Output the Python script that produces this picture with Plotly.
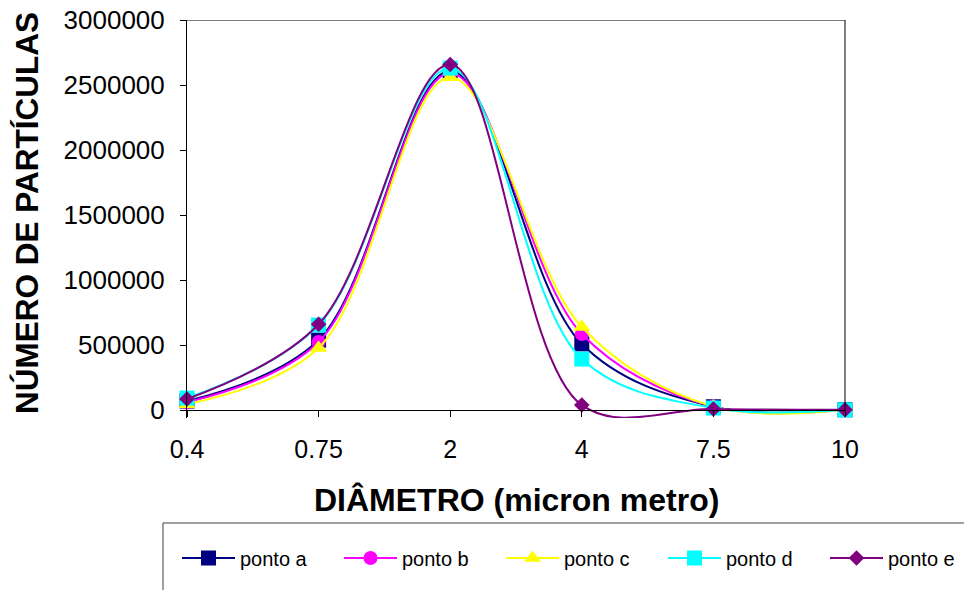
import plotly.graph_objects as go

categories = ["0.4", "0.75", "2", "4", "7.5", "10"]
ponto_a = [69000, 538000, 2608000, 508000, 25000, 2000]
ponto_b = [60000, 523000, 2590000, 585000, 26000, 2000]
ponto_c = [45000, 477000, 2560000, 638000, 26000, 2000]
ponto_d = [92000, 654000, 2630000, 392000, 15000, 1000]
ponto_e = [85000, 660000, 2658000, 38000, 8000, 2000]
y_ticks = [0, 500000, 1000000, 1500000, 2000000, 2500000, 3000000]

series = [
    ("ponto a", ponto_a, "#000080", "square", 15),
    ("ponto b", ponto_b, "#FF00FF", "circle", 14),
    ("ponto c", ponto_c, "#FFFF00", "triangle-up", 15),
    ("ponto d", ponto_d, "#00FFFF", "square", 15),
    ("ponto e", ponto_e, "#800080", "diamond", 12),
]

W, H = 964, 590
L, R, T, B = 187, 119, 20, 172
plot_h = H - T - B
ymax = 3000000
ymin = -ymax * 8 / 390.0

fig = go.Figure()
for name, vals, color, sym, size in series:
    fig.add_trace(go.Scatter(
        x=categories, y=vals, name=name, mode="lines+markers",
        line=dict(color=color, width=2, shape="spline", smoothing=1),
        marker=dict(color=color, symbol=sym, size=size, line=dict(width=0)),
        cliponaxis=False,
    ))

font = "Arial, Liberation Sans, sans-serif"

fig.update_layout(
    width=W, height=H,
    margin=dict(l=L, r=R, t=T, b=B, autoexpand=False),
    paper_bgcolor="white", plot_bgcolor="white",
    font=dict(family=font, color="black"),
    showlegend=True,
    legend=dict(
        orientation="h", x=(177 - L) / 658.0, xanchor="left",
        y=(H - B - 558) / plot_h, yanchor="middle",
        font=dict(size=20, family=font, color="black"),
        entrywidth=94, entrywidthmode="pixels", itemwidth=53,
        bgcolor="rgba(0,0,0,0)", borderwidth=0,
    ),
    xaxis=dict(
        type="category", range=[0, 5], anchor="free", position=8.0 / plot_h,
        showline=True, linecolor="black", linewidth=1,
        ticks="outside", ticklen=6, tickcolor="black", tickwidth=1,
        tickfont=dict(size=25, family=font), ticklabelstandoff=11,
        showgrid=False, zeroline=False,
    ),
    yaxis=dict(
        range=[ymin, ymax], tickvals=y_ticks, tickformat="d",
        showline=True, linecolor="black", linewidth=1,
        ticks="outside", ticklen=6, tickcolor="black", tickwidth=1,
        tickfont=dict(size=26, family=font), ticklabelstandoff=10,
        showgrid=False, zeroline=False,
    ),
    shapes=[
        dict(type="line", xref="paper", yref="y", x0=0, x1=1, y0=ymax, y1=ymax,
             line=dict(color="black", width=1)),
        dict(type="line", xref="paper", yref="y", x0=1, x1=1, y0=0, y1=ymax,
             line=dict(color="black", width=1)),
        dict(type="rect", xref="paper", yref="paper",
             x0=(163 - L) / 658.0, x1=(1010 - L) / 658.0,
             y0=(H - B - 523) / plot_h, y1=(H - B - 640) / plot_h,
             line=dict(color="#404040", width=1)),
    ],
    annotations=[
        dict(text="<b>NÚMERO DE PARTÍCULAS</b>", textangle=-90, showarrow=False,
             xref="paper", yref="paper", x=(27 - L) / 658.0, y=(H - B - 213) / plot_h,
             xanchor="center", yanchor="middle", font=dict(size=31.5, family=font)),
        dict(text="<b>DIÂMETRO (micron metro)</b>", showarrow=False,
             xref="paper", yref="paper", x=0.5, y=(H - B - 500) / plot_h,
             xanchor="center", yanchor="middle", font=dict(size=32, family=font)),
    ],
)

fig.write_html("out.html")
